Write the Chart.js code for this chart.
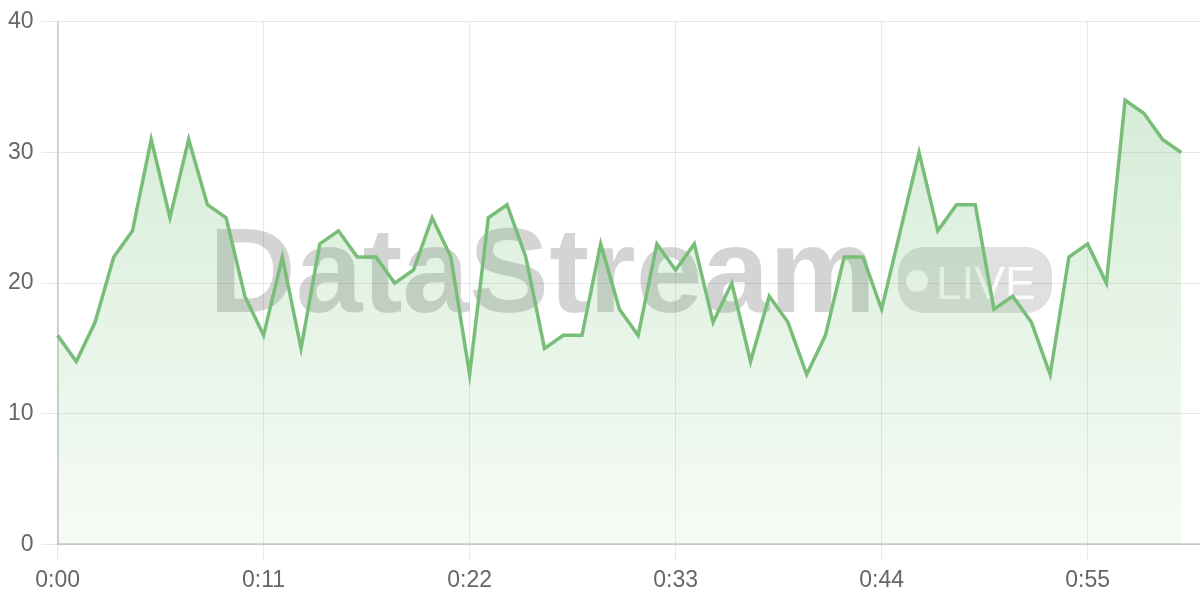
<!DOCTYPE html>
<html>
<head>
<meta charset="utf-8">
<script src="https://cdn.jsdelivr.net/npm/chart.js@4/dist/chart.umd.min.js"></script>
<style>
  html, body { margin: 0; padding: 0; background: #fff; }
  #wrap { width: 1200px; height: 600px; }
</style>
</head>
<body>
<div id="wrap"><canvas id="lineChart"></canvas></div>
<script>
// time labels, one per second (the axis runs one slot past the last reading)
var timeLabels = [
    '0:00','0:01','0:02','0:03','0:04','0:05','0:06','0:07','0:08','0:09',
    '0:10','0:11','0:12','0:13','0:14','0:15','0:16','0:17','0:18','0:19',
    '0:20','0:21','0:22','0:23','0:24','0:25','0:26','0:27','0:28','0:29',
    '0:30','0:31','0:32','0:33','0:34','0:35','0:36','0:37','0:38','0:39',
    '0:40','0:41','0:42','0:43','0:44','0:45','0:46','0:47','0:48','0:49',
    '0:50','0:51','0:52','0:53','0:54','0:55','0:56','0:57','0:58','0:59',
    '1:00','1:01'
];

// readings
var streamValues = [
    16, 14, 17, 22, 24, 31, 25, 31, 26, 25,
    19, 16, 22, 15, 23, 24, 22, 22, 20, 21,
    25, 22, 13, 25, 26, 22, 15, 16, 16, 23,
    18, 16, 23, 21, 23, 17, 20, 14, 19, 17,
    13, 16, 22, 22, 18, 24, 30, 24, 26, 26,
    18, 19, 17, 13, 22, 23, 20, 34, 33, 31,
    30
];

var yTicks = [0, 10, 20, 30, 40];
var labelEvery = 11;

var tickFont = { family: '"Helvetica Neue", Arial, "Liberation Sans", sans-serif', size: 23 };

// watermark behind the line
var watermark = {
    id: 'watermark',
    beforeDatasetsDraw: function (chart) {
        var ctx = chart.ctx;
        ctx.save();
        ctx.textBaseline = 'alphabetic';
        ctx.textAlign = 'left';
        ctx.font = 'bold 120px Arial, "Liberation Sans", sans-serif';
        ctx.fillStyle = 'rgba(0,0,0,0.17)';
        ctx.fillText('DataStream', 209, 312);

        // LIVE pill
        ctx.fillStyle = 'rgba(0,0,0,0.12)';
        ctx.beginPath();
        ctx.roundRect(898, 247, 154, 66, 26);
        ctx.fill();
        ctx.fillStyle = 'rgba(255,255,255,0.9)';
        ctx.beginPath();
        ctx.arc(917, 281, 11, 0, Math.PI * 2);
        ctx.fill();
        ctx.font = '46px Arial, "Liberation Sans", sans-serif';
        ctx.fillText('LIVE', 936, 299);
        ctx.restore();
    }
};

var ctxLine = document.getElementById('lineChart').getContext('2d');
new Chart(ctxLine, {
    type: 'line',
    data: {
        labels: timeLabels,
        datasets: [{
            label: 'Stream',
            data: streamValues,
            borderColor: 'rgb(120,190,120)',
            borderWidth: 3.5,
            pointRadius: 0,
            tension: 0,
            fill: 'origin',
            backgroundColor: function (context) {
                var area = context.chart.chartArea;
                if (!area) return 'rgba(76,175,80,0.15)';
                var g = context.chart.ctx.createLinearGradient(0, area.top, 0, area.bottom);
                g.addColorStop(0, 'rgba(76,175,80,0.26)');
                g.addColorStop(1, 'rgba(76,175,80,0.05)');
                return g;
            }
        }]
    },
    options: {
        responsive: true,
        maintainAspectRatio: false,
        animation: false,
        layout: { padding: 0 },
        plugins: {
            legend: { display: false },
            tooltip: { enabled: false }
        },
        scales: {
            x: {
                grid: { color: 'rgba(0,0,0,0.09)', tickLength: 16 },
                border: { color: 'rgba(0,0,0,0.15)', width: 2 },
                ticks: {
                    autoSkip: false,
                    maxRotation: 0,
                    padding: 6,
                    color: '#666',
                    font: tickFont,
                    callback: function (value, index) {
                        return index % labelEvery === 0 ? timeLabels[index] : null;
                    }
                }
            },
            y: {
                min: yTicks[0],
                max: yTicks[yTicks.length - 1],
                grid: { color: 'rgba(0,0,0,0.09)', tickLength: 16 },
                border: { color: 'rgba(0,0,0,0.15)', width: 2 },
                ticks: {
                    stepSize: yTicks[1] - yTicks[0],
                    padding: 8,
                    color: '#666',
                    font: tickFont
                }
            }
        }
    },
    plugins: [watermark]
});
</script>
</body>
</html>
